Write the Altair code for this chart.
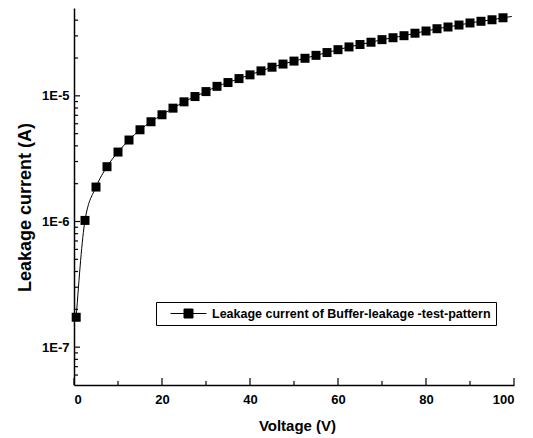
import altair as alt
import pandas as pd

# Data
voltage = [0.5, 2.5, 5, 7.5, 10, 12.5, 15, 17.5, 20, 22.5, 25, 27.5, 30, 32.5,
           35, 37.5, 40, 42.5, 45, 47.5, 50, 52.5, 55, 57.5, 60, 62.5, 65, 67.5,
           70, 72.5, 75, 77.5, 80, 82.5, 85, 87.5, 90, 92.5, 95, 97.5]
current = [1.73e-7, 1.02e-6, 1.88e-6, 2.73e-6, 3.57e-6, 4.45e-6, 5.37e-6, 6.22e-6,
           7.07e-6, 7.98e-6, 8.96e-6, 9.87e-6, 1.081e-5, 1.19e-5, 1.276e-5, 1.372e-5,
           1.469e-5, 1.58e-5, 1.69e-5, 1.79e-5, 1.89e-5, 1.99e-5, 2.10e-5, 2.21e-5,
           2.33e-5, 2.45e-5, 2.56e-5, 2.67e-5, 2.80e-5, 2.90e-5, 3.01e-5, 3.15e-5,
           3.28e-5, 3.42e-5, 3.53e-5, 3.66e-5, 3.80e-5, 3.92e-5, 4.03e-5, 4.18e-5]
fit_end_voltage = [99.5]
fit_end_current = [4.28e-5]

series_name = "Leakage current of Buffer-leakage -test-pattern"

y_major = [1e-7, 1e-6, 1e-5]
y_minor = [6e-8, 7e-8, 8e-8, 9e-8,
           2e-7, 3e-7, 4e-7, 5e-7, 6e-7, 7e-7, 8e-7, 9e-7,
           2e-6, 3e-6, 4e-6, 5e-6, 6e-6, 7e-6, 8e-6, 9e-6,
           2e-5, 3e-5, 4e-5]
x_major = [0, 20, 40, 60, 80, 100]
x_minor = [10, 30, 50, 70, 90]

pts = pd.DataFrame({"V": voltage, "I": current, "series": series_name})
line_df = pd.DataFrame({"V": voltage + fit_end_voltage, "I": current + fit_end_current})
ymaj = pd.DataFrame({"I": y_major})
ymin = pd.DataFrame({"I": y_minor})
xmaj = pd.DataFrame({"V": x_major})
xmin = pd.DataFrame({"V": x_minor})

W, H = 440, 377
FONT = "Liberation Sans"

xscale = alt.Scale(domain=[0, 100], nice=False)
yscale = alt.Scale(type="log", domain=[5e-8, 5e-5], nice=False)

xaxis = alt.Axis(values=x_major, ticks=False, grid=False, domainColor="black",
                 domainWidth=1.5, labelFont=FONT, labelFontSize=13, labelFontWeight="bold",
                 labelColor="black", labelPadding=8, title="Voltage (V)",
                 titleFont=FONT, titleFontSize=15, titleFontWeight="bold",
                 titleColor="black", titlePadding=12, titleX=223)
yaxis = alt.Axis(values=y_major, ticks=False, grid=False, domainColor="black",
                 domainWidth=1.5, labelFont=FONT, labelFontSize=13, labelFontWeight="bold",
                 labelColor="black", labelPadding=5,
                 labelExpr="'1E-' + round(-log(datum.value)/LN10)",
                 title="Leakage current (A)", titleFont=FONT, titleFontSize=18,
                 titleFontWeight="bold", titleColor="black", titlePadding=7, titleY=199)

line = alt.Chart(line_df).mark_line(color="black", strokeWidth=1, interpolate="monotone").encode(
    x=alt.X("V:Q", scale=xscale, axis=xaxis),
    y=alt.Y("I:Q", scale=yscale, axis=yaxis),
)

points = alt.Chart(pts).mark_point(shape="square", filled=True, size=81, opacity=1).encode(
    x=alt.X("V:Q", scale=xscale),
    y=alt.Y("I:Q", scale=yscale),
    color=alt.Color("series:N", scale=alt.Scale(range=["black"]),
                    legend=alt.Legend(
                        title=None, orient="none", legendX=82, legendY=294,
                        strokeColor="black", padding=5, symbolOffset=21,
                        symbolType="M-3,0H3M-0.75,-0.75H0.75V0.75H-0.75Z",
                        symbolSize=144, symbolStrokeWidth=1,
                        symbolFillColor="black", symbolStrokeColor="black",
                        labelFont=FONT, labelFontSize=12.5,
                        labelFontWeight="bold", labelColor="black", labelOffset=17,
                        labelLimit=0)),
)

ytick_major = alt.Chart(ymaj).mark_rule(color="black", strokeWidth=1.2).encode(
    y=alt.Y("I:Q", scale=yscale), x=alt.value(0), x2=alt.value(6))
ytick_minor = alt.Chart(ymin).mark_rule(color="black", strokeWidth=1.2).encode(
    y=alt.Y("I:Q", scale=yscale), x=alt.value(0), x2=alt.value(4))
xtick_major = alt.Chart(xmaj).mark_rule(color="black", strokeWidth=1.2).encode(
    x=alt.X("V:Q", scale=xscale), y=alt.value(H), y2=alt.value(H - 7))
xtick_minor = alt.Chart(xmin).mark_rule(color="black", strokeWidth=1.2).encode(
    x=alt.X("V:Q", scale=xscale), y=alt.value(H), y2=alt.value(H - 4))

chart = alt.layer(line, ytick_major, ytick_minor, xtick_major, xtick_minor, points).properties(
    width=W, height=H,
    autosize=alt.AutoSizeParams(type="none"),
    padding={"left": 66, "top": 0, "right": 11, "bottom": 52},
    background="white",
).configure_view(stroke=None)

chart.save("out.html", embed_options={"renderer": "svg", "actions": False})
